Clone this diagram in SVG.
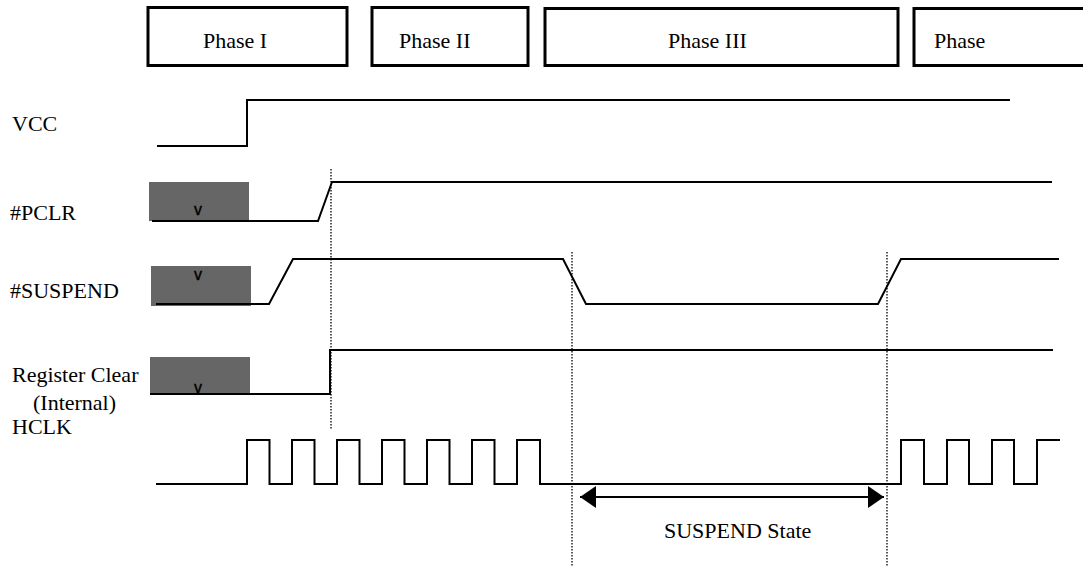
<svg xmlns="http://www.w3.org/2000/svg" width="1083" height="569" viewBox="0 0 1083 569">
<style>
text{font-family:"Liberation Serif","Times New Roman",serif;font-size:22px;fill:#000}
.box{fill:#fff;stroke:#000;stroke-width:3}
.sig{fill:none;stroke:#000;stroke-width:2}
.dot{fill:none;stroke:#000;stroke-width:1.3;stroke-dasharray:1.5 1.5}
.gray{fill:#666}
.v{font-family:"Liberation Sans",Arial,sans-serif;font-size:16px;stroke:#000;stroke-width:0.4}
</style>
<defs>
<marker id="ah" viewBox="0 0 16 22" refX="16" refY="11" markerWidth="16" markerHeight="22" markerUnits="userSpaceOnUse" orient="auto-start-reverse">
<path d="M0,0 L16,11 L0,22 Z" fill="#000"/>
</marker>
</defs>
<rect width="1083" height="569" fill="#fff"/>
<g id="phase1"><rect class="box" x="148" y="7.5" width="199" height="58"/><text x="203" y="48">Phase I</text></g>
<g id="phase2"><rect class="box" x="372" y="7.5" width="156" height="58"/><text x="399" y="48">Phase II</text></g>
<g id="phase3"><rect class="box" x="545" y="8.5" width="353" height="57"/><text x="668" y="48">Phase III</text></g>
<g id="phase4"><rect class="box" x="914" y="8.5" width="200" height="57"/><text x="934" y="48">Phase</text></g>

<g id="vcc"><text x="12" y="131">VCC</text><path class="sig" d="M157,146 H247 V100 H1010"/></g>
<g id="pclr"><text x="10" y="220">#PCLR</text><rect class="gray" x="149" y="182" width="100" height="39"/><text class="v" x="198" y="215" text-anchor="middle">v</text><path class="sig" d="M152,221 H318 L332,182 H1052"/></g>
<g id="suspend"><text x="10" y="298">#SUSPEND</text><rect class="gray" x="151" y="266" width="100" height="40"/><text class="v" x="198" y="280" text-anchor="middle">v</text><path class="sig" d="M156,304 H269 L293,259 H563 L586,304 H878 L901,259 H1059"/></g>
<g id="regclear"><text x="12" y="382">Register Clear</text><text x="33" y="410">(Internal)</text><rect class="gray" x="150" y="357" width="100" height="37"/><text class="v" x="198" y="393" text-anchor="middle">v</text><path class="sig" d="M150,394 H330 V350 H1053"/></g>
<g id="hclk"><text x="12" y="434">HCLK</text><path class="sig" d="M156,484 H247 V440 H269.5 V484 H292 V440 H314.5 V484 H337 V440 H359.5 V484 H382 V440 H404.5 V484 H427 V440 H449.5 V484 H472 V440 H494.5 V484 H517 V440 H540 V484 H901 V440 H924 V484 H947 V440 H969 V484 H992 V440 H1014 V484 H1037 V440 H1060"/></g>
<g id="suspendstate"><text x="664" y="538">SUSPEND State</text></g>
<g id="connectors">
<line class="dot" x1="331" y1="169" x2="331" y2="430"/>
<line class="dot" x1="572" y1="252" x2="572" y2="567"/>
<line class="dot" x1="887" y1="252" x2="887" y2="567"/>
<line stroke="#000" stroke-width="2" x1="580" y1="497" x2="884" y2="497" marker-start="url(#ah)" marker-end="url(#ah)"/>
</g>
</svg>
